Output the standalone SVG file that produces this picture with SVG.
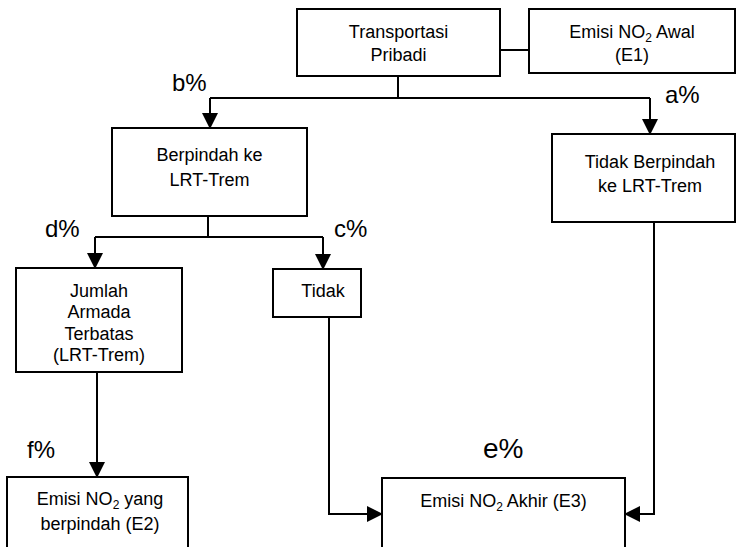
<svg xmlns="http://www.w3.org/2000/svg" width="741" height="547" viewBox="0 0 741 547">
  <defs>
    <style>
      .box { fill: #ffffff; stroke: #000000; stroke-width: 2; }
      .lbl { font-family: "Liberation Sans", Arial, sans-serif; font-size: 18px; fill: #000000; text-anchor: middle; }
      .pct { font-family: "Liberation Sans", Arial, sans-serif; font-size: 24px; fill: #000000; }
      .sub { font-size: 12px; }
      .wire { fill: none; stroke: #000000; stroke-width: 2; }
      .arrow { fill: none; stroke: #000000; stroke-width: 2; marker-end: url(#head); }
    </style>
    <marker id="head" viewBox="0 0 16 16" refX="15" refY="8" markerWidth="16" markerHeight="16" markerUnits="userSpaceOnUse" orient="auto">
      <path d="M0,0 L16,8 L0,16 Z" fill="#000000"/>
    </marker>
  </defs>

  <!-- connectors -->
  <g id="connectors">
    <path class="wire" d="M500,50 H529"/>
    <path class="wire" d="M398,76 V98"/>
    <path class="wire" d="M210,98 H650"/>
    <path class="arrow" d="M210,98 V128"/>
    <path class="arrow" d="M650,98 V134"/>
    <path class="wire" d="M208,216 V237"/>
    <path class="wire" d="M95,237 H323"/>
    <path class="arrow" d="M95,237 V268"/>
    <path class="arrow" d="M323,237 V269"/>
    <path class="arrow" d="M97,372 V477"/>
    <path class="arrow" d="M329,317 V514 H382"/>
    <path class="arrow" d="M654,222 V514 H625"/>
  </g>

  <!-- branch percentages -->
  <g id="labels">
    <text class="pct" x="172" y="91">b%</text>
    <text class="pct" x="665" y="103">a%</text>
    <text class="pct" x="45" y="237">d%</text>
    <text class="pct" x="334" y="237">c%</text>
    <text class="pct" x="27" y="458">f%</text>
    <text class="pct" x="483" y="458" style="font-size:28px">e%</text>
  </g>

  <g id="transportasi-pribadi">
    <rect class="box" x="297" y="9" width="203" height="67"/>
    <text class="lbl" x="398.5" y="38">Transportasi</text>
    <text class="lbl" x="398.5" y="61">Pribadi</text>
  </g>

  <g id="emisi-awal">
    <rect class="box" x="529" y="9" width="206" height="64"/>
    <text class="lbl" x="632" y="38">Emisi NO<tspan class="sub" dy="4">2</tspan><tspan dy="-4"> Awal</tspan></text>
    <text class="lbl" x="632" y="61">(E1)</text>
  </g>

  <g id="berpindah">
    <rect class="box" x="112" y="128" width="195" height="88"/>
    <text class="lbl" x="209.5" y="161">Berpindah ke</text>
    <text class="lbl" x="209.5" y="186">LRT-Trem</text>
  </g>

  <g id="tidak-berpindah">
    <rect class="box" x="552" y="134" width="183" height="88"/>
    <text class="lbl" x="650" y="168">Tidak Berpindah</text>
    <text class="lbl" x="650" y="192">ke LRT-Trem</text>
  </g>

  <g id="jumlah-armada">
    <rect class="box" x="16" y="268" width="166" height="104"/>
    <text class="lbl" x="99" y="297">Jumlah</text>
    <text class="lbl" x="99" y="318">Armada</text>
    <text class="lbl" x="99" y="340">Terbatas</text>
    <text class="lbl" x="99" y="361">(LRT-Trem)</text>
  </g>

  <g id="tidak">
    <rect class="box" x="273" y="269" width="88" height="48"/>
    <text class="lbl" x="323" y="297">Tidak</text>
  </g>

  <g id="emisi-berpindah">
    <rect class="box" x="7" y="477" width="181" height="80"/>
    <text class="lbl" x="100" y="505">Emisi NO<tspan class="sub" dy="4">2</tspan><tspan dy="-4"> yang</tspan></text>
    <text class="lbl" x="100" y="530">berpindah (E2)</text>
  </g>

  <g id="emisi-akhir">
    <rect class="box" x="382" y="478" width="243" height="80"/>
    <text class="lbl" x="503.5" y="507">Emisi NO<tspan class="sub" dy="4">2</tspan><tspan dy="-4"> Akhir (E3)</tspan></text>
  </g>
</svg>
